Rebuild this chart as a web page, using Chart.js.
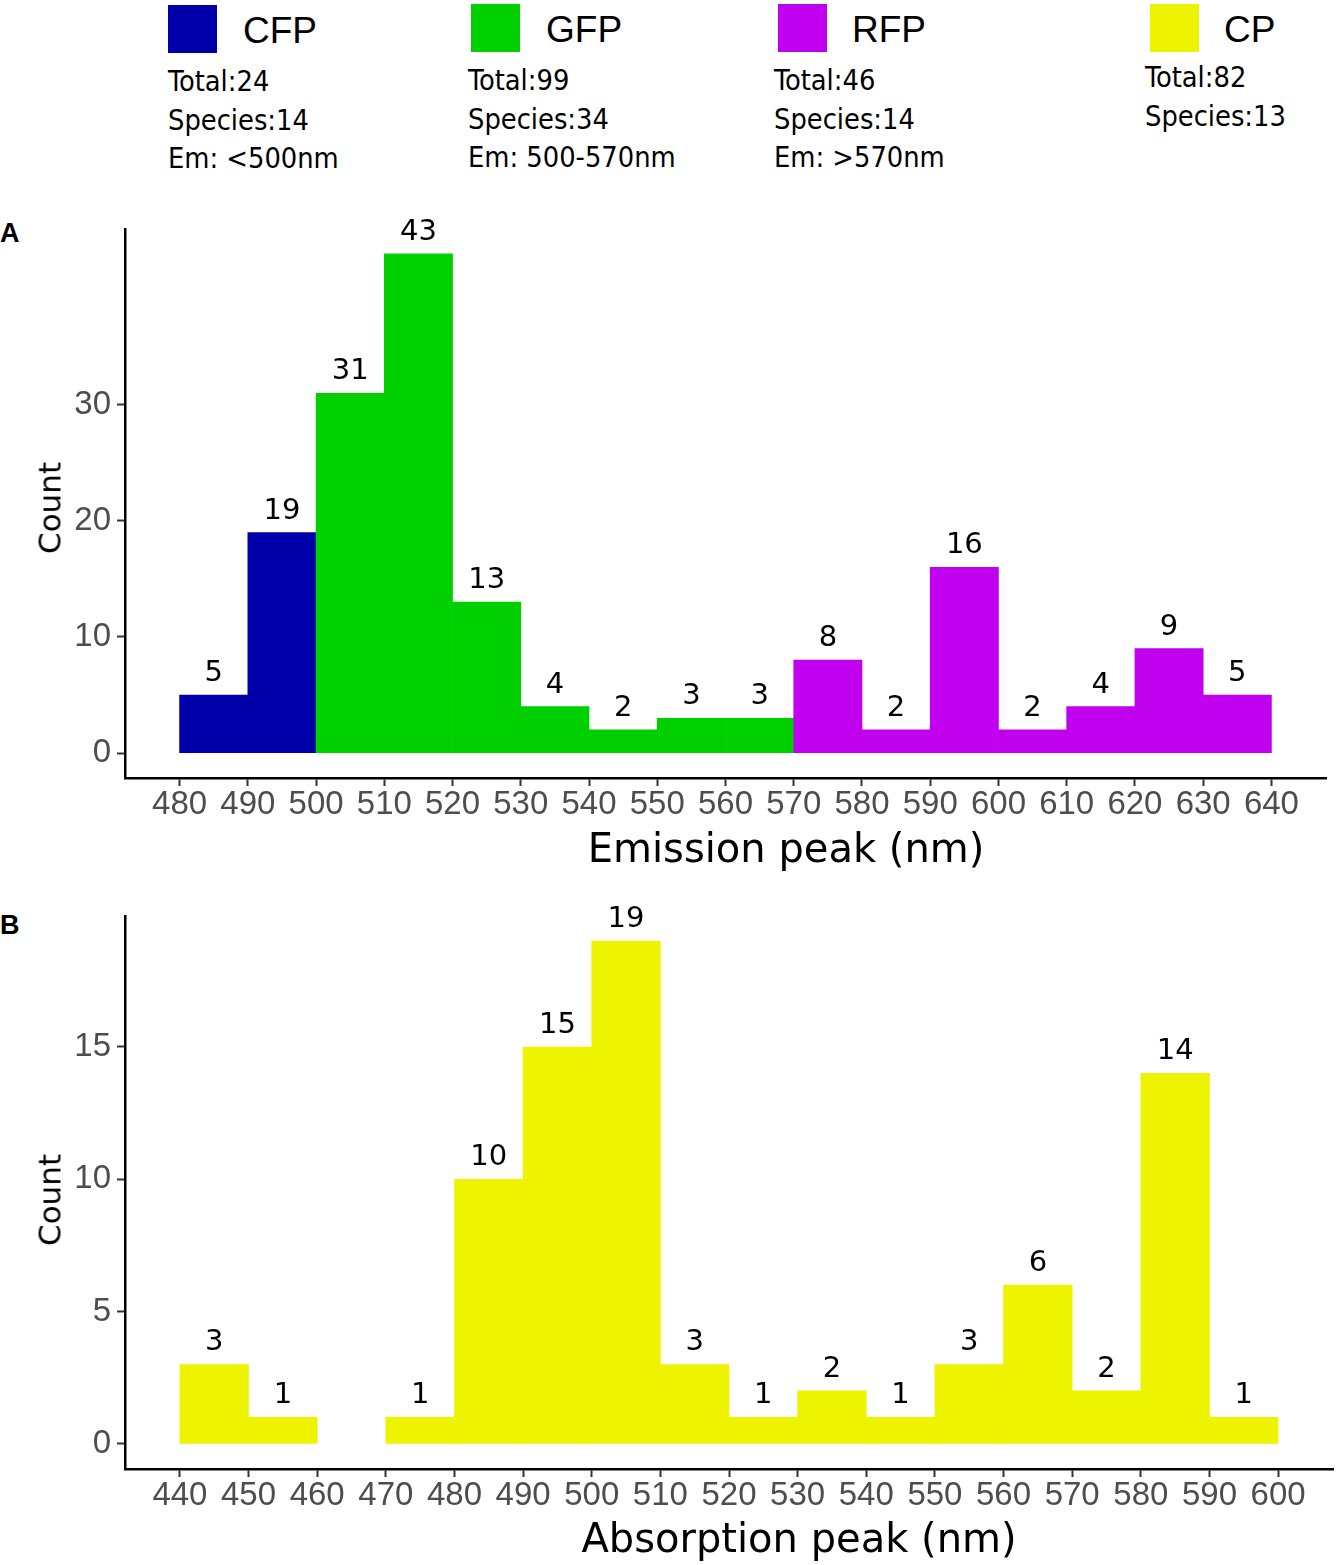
<!DOCTYPE html>
<html>
<head>
<meta charset="utf-8">
<script src="https://cdn.jsdelivr.net/npm/chart.js@4.4.0/dist/chart.umd.min.js"></script>
<style>
  body { margin: 0; background: #fff; width: 1336px; height: 1565px; position: relative; overflow: hidden; }
  .sw { position: absolute; width: 49px; height: 48px; }
  .name { position: absolute; font-family: "Liberation Sans", Arial, sans-serif; font-size: 37px; line-height: 1; color: #000; }
  .stat { position: absolute; font-family: "DejaVu Sans Condensed", "DejaVu Sans", sans-serif; font-stretch: condensed;
          font-size: 28.7px; line-height: 38.5px; color: #000; white-space: nowrap; }
  .ttl { position: absolute; font-family: "DejaVu Sans", sans-serif; color: #000; line-height: 1;
         white-space: nowrap; transform: translate(-50%, -50%); }
  .rot { transform: translate(-50%, -50%) rotate(-90deg); }
  .panel { position: absolute; left: 0; font-family: "Liberation Sans", Arial, sans-serif; font-weight: bold; font-size: 27px; line-height: 1; }
  canvas { position: absolute; left: 0; }
</style>
</head>
<body>

<!-- legend -->
<div class="sw" style="left:168px;top:5px;background:#0000AA"></div>
<div class="name" style="left:243px;top:12px">CFP</div>
<div class="stat" style="left:168px;top:62px">Total:24<br>Species:14<br>Em: &lt;500nm</div>

<div class="sw" style="left:471px;top:4px;background:#00D000"></div>
<div class="name" style="left:546px;top:11px">GFP</div>
<div class="stat" style="left:468px;top:61px">Total:99<br>Species:34<br>Em: 500-570nm</div>

<div class="sw" style="left:778px;top:4px;background:#C000EE"></div>
<div class="name" style="left:852px;top:11px">RFP</div>
<div class="stat" style="left:774px;top:61px">Total:46<br>Species:14<br>Em: &gt;570nm</div>

<div class="sw" style="left:1150px;top:4px;background:#EEF300"></div>
<div class="name" style="left:1224px;top:11px">CP</div>
<div class="stat" style="left:1145px;top:58px">Total:82<br>Species:13</div>

<div class="panel" style="top:220px">A</div>
<div class="panel" style="top:912px">B</div>

<canvas id="chartA" width="1336" height="690" style="top:200px"></canvas>
<canvas id="chartB" width="1336" height="685" style="top:880px"></canvas>

<div class="ttl" style="left:786px;top:848px;font-size:40px">Emission peak (nm)</div>
<div class="ttl rot" style="left:50px;top:508px;font-size:31px">Count</div>
<div class="ttl" style="left:799px;top:1538px;font-size:40px">Absorption peak (nm)</div>
<div class="ttl rot" style="left:50px;top:1200px;font-size:31px">Count</div>

<script>
// Panel A: emission peak histogram (bin centres, 10 nm bins)
const emissionBins = [485, 495, 505, 515, 525, 535, 545, 555, 565, 575, 585, 595, 605, 615, 625, 635];
const emissionCounts = [5, 19, 31, 43, 13, 4, 2, 3, 3, 8, 2, 16, 2, 4, 9, 5];
const emissionTicks = [480, 490, 500, 510, 520, 530, 540, 550, 560, 570, 580, 590, 600, 610, 620, 630, 640];
const emissionYTicks = [0, 10, 20, 30];

// Panel B: absorption peak histogram
const absorptionBins = [445, 455, 465, 475, 485, 495, 505, 515, 525, 535, 545, 555, 565, 575, 585, 595];
const absorptionCounts = [3, 1, 0, 1, 10, 15, 19, 3, 1, 2, 1, 3, 6, 2, 14, 1];
const absorptionTicks = [440, 450, 460, 470, 480, 490, 500, 510, 520, 530, 540, 550, 560, 570, 580, 590, 600];
const absorptionYTicks = [0, 5, 10, 15];

const COLORS = { CFP: '#0000AA', GFP: '#00D000', RFP: '#C000EE', CP: '#EEF300' };

// Em: <500 CFP, 500-570 GFP, >570 RFP
function emissionColor(c) {
  if (c < 500) return COLORS.CFP;
  if (c < 570) return COLORS.GFP;
  return COLORS.RFP;
}

// numbers above bars
const barLabels = {
  id: 'barLabels',
  afterDatasetsDraw(chart) {
    const ctx = chart.ctx;
    const meta = chart.getDatasetMeta(0);
    const vals = chart.data.datasets[0].data;
    ctx.save();
    ctx.font = '29px "DejaVu Sans"';
    ctx.fillStyle = '#000';
    ctx.textAlign = 'center';
    ctx.textBaseline = 'alphabetic';
    meta.data.forEach((bar, i) => {
      const v = vals[i].y;
      if (v > 0) ctx.fillText(String(v), bar.x, bar.y - 14);
    });
    ctx.restore();
  }
};

function histogram(id, bins, counts, colors, xTicks, yTicks, xr, yr, pad, xHeight) {
  // empty bins draw nothing
  const keep = counts.map((c, i) => i).filter(i => counts[i] > 0);
  new Chart(document.getElementById(id), {
    type: 'bar',
    data: {
      datasets: [{
        data: keep.map(i => ({ x: bins[i], y: counts[i] })),
        backgroundColor: keep.map(i => colors[i]),
        borderWidth: 0,
        barPercentage: 1,
        categoryPercentage: 1
      }]
    },
    options: {
      responsive: false,
      animation: false,
      layout: { padding: pad },
      plugins: { legend: { display: false }, tooltip: { enabled: false } },
      scales: {
        x: {
          type: 'linear', min: xr[0], max: xr[1], offset: false,
          afterBuildTicks: s => { s.ticks = xTicks.map(v => ({ value: v })); },
          afterFit: s => { s.height = xHeight; },
          grid: { offset: false, drawOnChartArea: false, tickLength: 8, tickWidth: 2, tickColor: '#333' },
          border: { display: true, color: '#000', width: 2.5 },
          ticks: { font: { family: 'Liberation Sans', size: 33, lineHeight: 1 }, color: '#4D4D4D',
                   padding: 2, maxRotation: 0, autoSkip: false }
        },
        y: {
          type: 'linear', min: yr[0], max: yr[1],
          afterBuildTicks: s => { s.ticks = yTicks.map(v => ({ value: v })); },
          afterFit: s => { s.width = 125; },
          grid: { drawOnChartArea: false, tickLength: 8, tickWidth: 2, tickColor: '#333' },
          border: { display: true, color: '#000', width: 2.5 },
          ticks: { font: { family: 'Liberation Sans', size: 33, lineHeight: 1 }, color: '#4D4D4D', padding: 6 }
        }
      }
    },
    plugins: [barLabels]
  });
}

histogram('chartA', emissionBins, emissionCounts, emissionBins.map(emissionColor),
  emissionTicks, emissionYTicks, [472, 648], [-2.15, 45.15],
  { left: 0, right: 10, top: 29, bottom: 0 }, 112);

histogram('chartB', absorptionBins, absorptionCounts, absorptionBins.map(() => COLORS.CP),
  absorptionTicks, absorptionYTicks, [432, 608], [-0.95, 19.95],
  { left: 0, right: 3, top: 36, bottom: 0 }, 96);
</script>
</body>
</html>
